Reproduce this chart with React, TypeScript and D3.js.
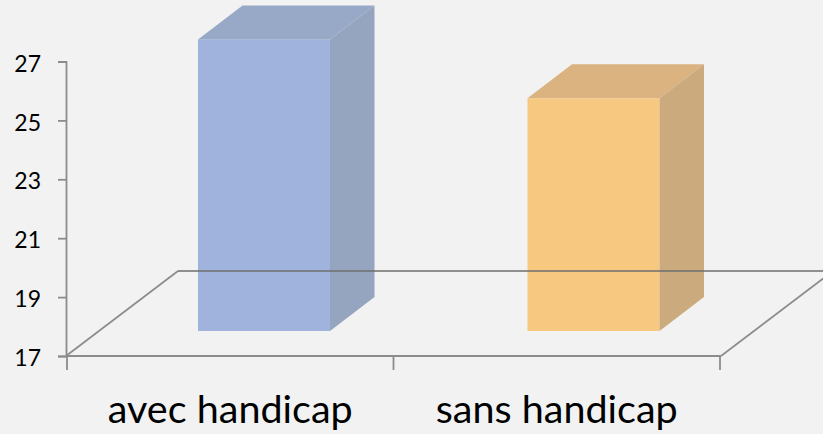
import React, { useEffect, useRef } from 'react';
import * as d3 from 'd3';

const categories = ['avec handicap', 'sans handicap'];
const values = [26.9, 24.9];
const yTicks = [17, 19, 21, 23, 25, 27];

const frontColors = ['#9fb3dc', '#f7c880'];
const topColors = ['#98a9c8', '#dab380'];
const sideColors = ['#95a4bf', '#cbab7e'];

const width = 823;
const height = 434;
const axisColor = '#8c8c8c';
const font = 'Lato, Carlito, sans-serif';

export default function App() {
  const svgRef = useRef<SVGSVGElement>(null);

  useEffect(() => {
    const svg = d3.select(svgRef.current);
    svg.selectAll('*').remove();

    const y = d3.scaleLinear().domain([17, 27]).range([356, 61.5]);
    const x = d3.scaleBand().domain(categories).range([67, 720]);
    // left edge of each bar's front face
    const barX = d3.scalePoint().domain(categories).range([198, 527.5]);
    const line = d3.line();

    // floor of the 3d box, the back edge goes over the bars
    const floorDx = 112;
    const floorDy = 85;
    // bars stand a little way back from the front edge
    const barShiftY = 25;
    const barDx = 44.5;
    const barDy = 34;
    const barWidth = 132;

    svg.append('path')
      .attr('d', line([[x.range()[0] - 1, y(17)], [x.range()[0] - 1 + floorDx, y(17) - floorDy]]))
      .attr('stroke', axisColor).attr('stroke-width', 1.7).attr('fill', 'none');
    svg.append('path')
      .attr('d', line([[x.range()[1] + 1, y(17)], [x.range()[1] + 1 + floorDx, y(17) - floorDy]]))
      .attr('stroke', axisColor).attr('stroke-width', 1.7).attr('fill', 'none');

    categories.forEach((c, i) => {
      const x0 = barX(c)!;
      const x1 = x0 + barWidth;
      const top = y(values[i]) - barShiftY;
      const bottom = y(17) - barShiftY;

      svg.append('rect')
        .attr('x', x0).attr('y', top)
        .attr('width', barWidth).attr('height', bottom - top)
        .attr('fill', frontColors[i]);
      svg.append('path')
        .attr('d', line([[x0, top], [x0 + barDx, top - barDy], [x1 + barDx, top - barDy], [x1, top]]) + 'Z')
        .attr('fill', topColors[i]);
      svg.append('path')
        .attr('d', line([[x1, top], [x1 + barDx, top - barDy], [x1 + barDx, bottom - barDy], [x1, bottom]]) + 'Z')
        .attr('fill', sideColors[i]);
    });

    svg.append('path')
      .attr('d', line([[x.range()[0] - 1 + floorDx, y(17) - floorDy], [width, y(17) - floorDy]]))
      .attr('stroke', '#6e6e6e').attr('stroke-opacity', 0.75).attr('stroke-width', 1.8).attr('fill', 'none');

    // y axis
    const yAxis = svg.append('g')
      .attr('transform', 'translate(66,0)')
      .call(d3.axisLeft(y).tickValues(yTicks).tickSize(8).tickPadding(17).tickFormat(d3.format('d')));
    yAxis.selectAll('line,path').attr('stroke', axisColor).attr('stroke-width', 1.8);
    yAxis.selectAll('text')
      .attr('fill', '#000').attr('font-family', font).attr('font-size', 23)
      .attr('dy', '0.42em');

    // x axis, ticks sit on the edges of the bands
    const xAxis = svg.append('g').attr('transform', `translate(0,${y(17)})`);
    xAxis.append('line')
      .attr('x1', x.range()[0] - 1).attr('x2', x.range()[1] + 1)
      .attr('stroke', axisColor).attr('stroke-width', 1.8);
    xAxis.selectAll('.edge')
      .data([x.range()[0], x(categories[1])!, x.range()[1]])
      .enter().append('line')
      .attr('class', 'edge')
      .attr('x1', d => d).attr('x2', d => d)
      .attr('y1', 0).attr('y2', 14)
      .attr('stroke', axisColor).attr('stroke-width', 1.8);

    svg.selectAll('.cat')
      .data(categories)
      .enter().append('text')
      .attr('class', 'cat')
      .attr('x', d => x(d)! + x.bandwidth() / 2)
      .attr('y', 423)
      .attr('text-anchor', 'middle')
      .attr('font-family', font)
      .attr('font-size', 39.5)
      .attr('fill', '#000')
      .text(d => d);
  }, []);

  return (
    <svg
      ref={svgRef}
      width={width}
      height={height}
      style={{ position: 'fixed', left: 0, top: 0, background: '#f2f2f2', display: 'block' }}
    ></svg>
  );
}
